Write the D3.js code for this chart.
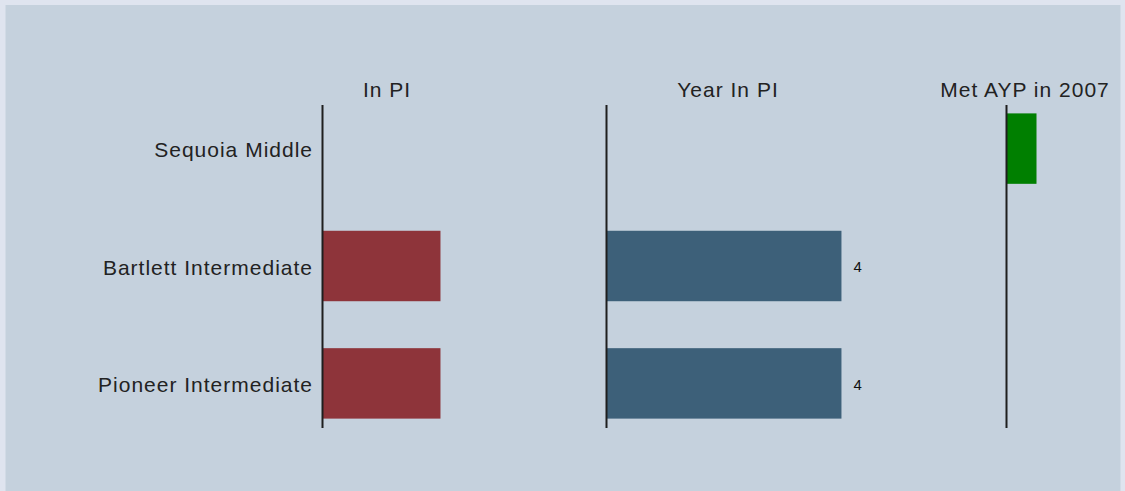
<!DOCTYPE html>
<html>
<head>
<meta charset="utf-8">
<script src="https://cdn.jsdelivr.net/npm/d3@7"></script>
<style>
  html, body { margin: 0; padding: 0; background: #dfe4ef; }
  svg { display: block; }
</style>
</head>
<body>
<svg id="chart" width="1125" height="491"></svg>
<script>
// ---- data ----
const schools = ["Sequoia Middle", "Bartlett Intermediate", "Pioneer Intermediate"];
const inPI = [0, 1, 1];
const yearInPI = [null, 4, 4];
const metAYP = [1, 0, 0];
const columnTitles = ["In PI", "Year In PI", "Met AYP in 2007"];
const yearLabels = ["", "4", "4"];

// ---- layout ----
const W = 1125, H = 491;
const svg = d3.select("#chart");
const FONT = "'Liberation Sans', Arial, sans-serif";

svg.append("rect").attr("x", 0).attr("y", 0).attr("width", W).attr("height", H).attr("fill", "#dfe4ef");
svg.append("rect").attr("x", 5.5).attr("y", 5).attr("width", 1115).attr("height", H - 5).attr("fill", "#c5d1dd");

const y = d3.scaleBand().domain(schools).range([104, 428]).paddingInner(0.4).paddingOuter(0.08);

const columns = [
  { title: columnTitles[0], values: inPI, x0: 322.5, width: 128, max: 1.085, color: "#8e343a", labels: null },
  { title: columnTitles[1], values: yearInPI, x0: 606.5, width: 242, max: 4.12, color: "#3d6079", labels: yearLabels },
  { title: columnTitles[2], values: metAYP, x0: 1006.5, width: 36, max: 1.2, color: "#007f00", labels: null }
];

// row labels
svg.append("g").selectAll("text").data(schools).join("text")
  .attr("x", 313)
  .attr("y", d => y(d) + y.bandwidth() / 2 + 1)
  .attr("dy", "0.36em")
  .attr("text-anchor", "end")
  .attr("font-family", FONT)
  .attr("font-size", 21)
  .attr("letter-spacing", 1)
  .attr("fill", "#222")
  .text(d => d);

columns.forEach(col => {
  const x = d3.scaleLinear().domain([0, col.max]).range([col.x0, col.x0 + col.width]);
  const g = svg.append("g");
  const rows = schools.map((s, i) => ({ s, v: col.values[i], lab: col.labels ? col.labels[i] : "" }));

  g.selectAll("rect").data(rows.filter(d => d.v)).join("rect")
    .attr("x", x(0))
    .attr("y", d => y(d.s))
    .attr("width", d => x(d.v) - x(0))
    .attr("height", y.bandwidth())
    .attr("fill", col.color);

  g.selectAll("text.val").data(rows.filter(d => d.lab)).join("text")
    .attr("class", "val")
    .attr("x", d => x(d.v) + 12)
    .attr("y", d => y(d.s) + y.bandwidth() / 2 + 1)
    .attr("dy", "0.36em")
    .attr("font-family", FONT)
    .attr("font-size", 15)
    .attr("fill", "#111")
    .text(d => d.lab);

  g.append("line")
    .attr("x1", x(0)).attr("x2", x(0))
    .attr("y1", y.range()[0] + 1).attr("y2", y.range()[1])
    .attr("stroke", "#1e1e1e").attr("stroke-width", 2);

  g.append("text")
    .attr("x", (x.range()[0] + x.range()[1]) / 2 + 0.5)
    .attr("y", 97)
    .attr("text-anchor", "middle")
    .attr("font-family", FONT)
    .attr("font-size", 21)
    .attr("letter-spacing", 1)
    .attr("fill", "#222")
    .text(col.title);
});
</script>
</body>
</html>
